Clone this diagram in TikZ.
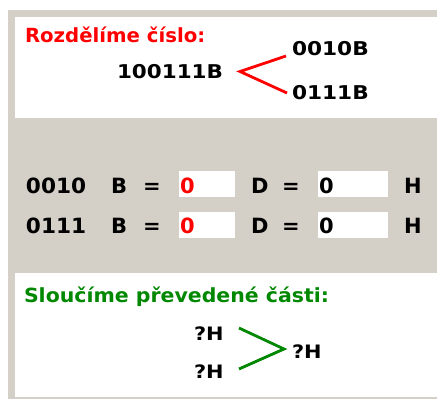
\documentclass[tikz,border=0pt]{standalone}
\usepackage{fontspec}
\setmainfont{DejaVu Sans}
\definecolor{wingray}{HTML}{D4D0C8}
\definecolor{splitred}{RGB}{255,0,0}
\definecolor{mergegreen}{RGB}{0,136,0}
% bold UI text: size, horizontal stretch, text
\newcommand{\uitext}[3]{\scalebox{#2}[1]{\fontsize{#1}{#1}\selectfont\bfseries #3}}
\tikzset{
  lbl/.style={inner sep=0pt, outer sep=0pt, anchor=base west},
  field/.style={fill=white, draw=none},
  splitline/.style={draw=splitred, line width=2.8pt},
  mergeline/.style={draw=mergegreen, line width=2.8pt},
}
\begin{document}
\begin{tikzpicture}[x=1pt,y=-1pt]
\useasboundingbox (0,0) rectangle (437,399);
% window background and the two white panels
\fill[wingray] (8,10) rectangle (437,399);
\fill[white] (15,17) rectangle (437,118);
\fill[white] (15,273) rectangle (437,397);

% --- splitting the number ---
\node[lbl, text=splitred] (title1) at (25,42) {\uitext{19.5}{1.01}{Rozdělíme číslo:}};
\node[lbl] (whole) at (117,78) {\uitext{19}{1.13}{100111B}};
\node[lbl] (hi) at (292,55) {\uitext{19}{1.14}{0010B}};
\node[lbl] (lo) at (292,99) {\uitext{19}{1.14}{0111B}};
\coordinate (rv) at (240,71.5);
\coordinate (ru) at (286,56);
\coordinate (rl) at (287,93);
\draw[splitline] (ru) -- (rv) -- (rl);

% --- conversion rows ---
\node[lbl] (r1bin) at (26,193) {\uitext{21}{1.03}{0010}};
\node[lbl] (r1b) at (111,193) {\uitext{21}{1}{B}};
\node[lbl] (r1eq) at (143,193) {\uitext{21}{1}{=}};
\fill[field] (179,171) rectangle (235,197);
\node[lbl, text=splitred] (r1dec) at (180,193) {\uitext{21}{1}{0}};
\node[lbl] (r1d) at (251,193) {\uitext{21}{1}{D}};
\node[lbl] (r1eq2) at (282,193) {\uitext{21}{1}{=}};
\fill[field] (318,171) rectangle (388,197);
\node[lbl] (r1hex) at (319,193) {\uitext{21}{1}{0}};
\node[lbl] (r1h) at (404,193) {\uitext{21}{1}{H}};

\node[lbl] (r2bin) at (26,233) {\uitext{21}{1.03}{0111}};
\node[lbl] (r2b) at (111,233) {\uitext{21}{1}{B}};
\node[lbl] (r2eq) at (143,233) {\uitext{21}{1}{=}};
\fill[field] (179,212) rectangle (235,238);
\node[lbl, text=splitred] (r2dec) at (180,233) {\uitext{21}{1}{0}};
\node[lbl] (r2d) at (251,233) {\uitext{21}{1}{D}};
\node[lbl] (r2eq2) at (282,233) {\uitext{21}{1}{=}};
\fill[field] (318,212) rectangle (388,238);
\node[lbl] (r2hex) at (319,233) {\uitext{21}{1}{0}};
\node[lbl] (r2h) at (404,233) {\uitext{21}{1}{H}};

% --- merging the converted parts ---
\node[lbl, text=mergegreen] (title2) at (24,302) {\uitext{19.5}{1.05}{Sloučíme převedené části:}};
\node[lbl] (hhi) at (194,340) {\uitext{18.5}{1.13}{?H}};
\node[lbl] (hlo) at (194,378) {\uitext{18.5}{1.13}{?H}};
\node[lbl] (hall) at (292,358) {\uitext{18.5}{1.13}{?H}};
\coordinate (gu) at (239,328);
\coordinate (gv) at (284,349);
\coordinate (gl) at (239,369);
\draw[mergeline] (gu) -- (gv) -- (gl);
\end{tikzpicture}
\end{document}
